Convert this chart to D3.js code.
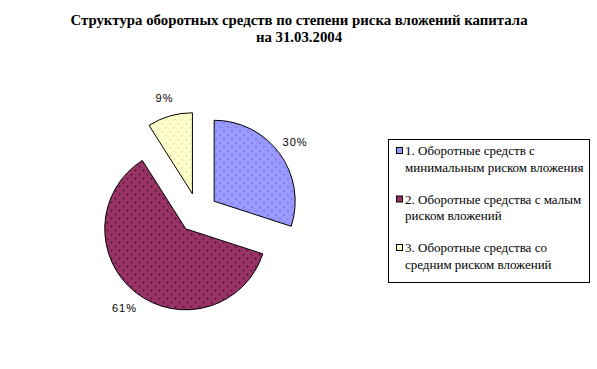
<!DOCTYPE html>
<html>
<head>
<meta charset="utf-8">
<script src="https://cdn.jsdelivr.net/npm/d3@7"></script>
<style>
  body { margin: 0; background: #fff; }
  text { font-family: "Liberation Serif", "Times New Roman", serif; }
</style>
</head>
<body>
<div class="d3-container"></div>
<script>
const categories = ["1. Оборотные средств с минимальным риском вложения",
                    "2. Оборотные средства с малым риском вложений",
                    "3. Оборотные средства со средним риском вложений"];
const legendLines = [["1. Оборотные средств с", "минимальным риском вложения"],
                     ["2. Оборотные средства с малым", "риском вложений"],
                     ["3. Оборотные средства со", "средним риском вложений"]];
const shares = [30, 61, 9];
const labels = ["30%", "61%", "9%"];
const colors = ["#9999ff", "#993366", "#ffffcc"];
const dotColors = ["#6a6ae0", "#3a0a26", "#d8d8a0"];

const width = 597;
const height = 369;

const svg = d3.select(".d3-container")
  .append("svg")
  .attr("width", width)
  .attr("height", height)
  .attr("viewBox", [0, 0, width, height]);

const defs = svg.append("defs");
colors.forEach((c, i) => {
  const p = defs.append("pattern")
    .attr("id", "dots" + i)
    .attr("width", 8).attr("height", 8)
    .attr("patternUnits", "userSpaceOnUse");
  p.append("rect").attr("width", 8).attr("height", 8).attr("fill", c);
  p.append("rect").attr("x", 1).attr("y", 1).attr("width", 1.5).attr("height", 1.5).attr("fill", dotColors[i]);
  p.append("rect").attr("x", 5).attr("y", 5).attr("width", 1.5).attr("height", 1.5).attr("fill", dotColors[i]);
});

// title
const title = svg.append("text")
  .attr("text-anchor", "middle")
  .attr("font-weight", "bold")
  .attr("font-size", 14.8);
title.append("tspan").attr("x", 299).attr("y", 25)
  .text("Структура оборотных средств по степени риска вложений капитала");
title.append("tspan").attr("x", 299).attr("y", 42)
  .text("на 31.03.2004");

// pie
const cx = 198, cy = 213, r = 81, explode = 20;
const pie = d3.pie().sort(null).value(d => d);
const arcs = pie(shares);
const arc = d3.arc().innerRadius(0).outerRadius(r);

const g = svg.append("g").attr("transform", `translate(${cx},${cy})`);

const slice = g.selectAll("g.slice")
  .data(arcs)
  .join("g")
  .attr("class", "slice")
  .attr("transform", d => {
    const a = (d.startAngle + d.endAngle) / 2;
    return `translate(${explode * Math.sin(a)},${-explode * Math.cos(a)})`;
  });

slice.append("path")
  .attr("d", arc)
  .attr("fill", (d, i) => `url(#dots${i})`)
  .attr("stroke", "#000")
  .attr("stroke-width", 1);

slice.append("text")
  .attr("x", d => 100 * Math.sin((d.startAngle + d.endAngle) / 2))
  .attr("y", d => -100 * Math.cos((d.startAngle + d.endAngle) / 2) + 4)
  .attr("text-anchor", "middle")
  .attr("font-size", 11)
  .attr("letter-spacing", 1)
  .style("font-family", "'Liberation Sans', Arial, sans-serif")
  .text((d, i) => labels[i]);

// legend
const legend = svg.append("g");
legend.append("rect")
  .attr("x", 388.5).attr("y", 139.5)
  .attr("width", 201).attr("height", 143)
  .attr("fill", "#fff")
  .attr("stroke", "#000");

const rowY = d3.scalePoint().domain(d3.range(categories.length)).range([155, 252]);

const item = legend.selectAll("g.item")
  .data(categories)
  .join("g")
  .attr("class", "item");

item.append("rect")
  .attr("x", 396.5)
  .attr("y", (d, i) => rowY(i) - 7.5)
  .attr("width", 6).attr("height", 6)
  .attr("fill", (d, i) => colors[i])
  .attr("stroke", "#000");

item.append("text")
  .attr("font-size", 13)
  .selectAll("tspan")
  .data((d, i) => legendLines[i].map((t, k) => ({t, k, i})))
  .join("tspan")
  .attr("x", 405)
  .attr("y", d => rowY(d.i) + d.k * 16.5)
  .text(d => d.t);
</script>
</body>
</html>
